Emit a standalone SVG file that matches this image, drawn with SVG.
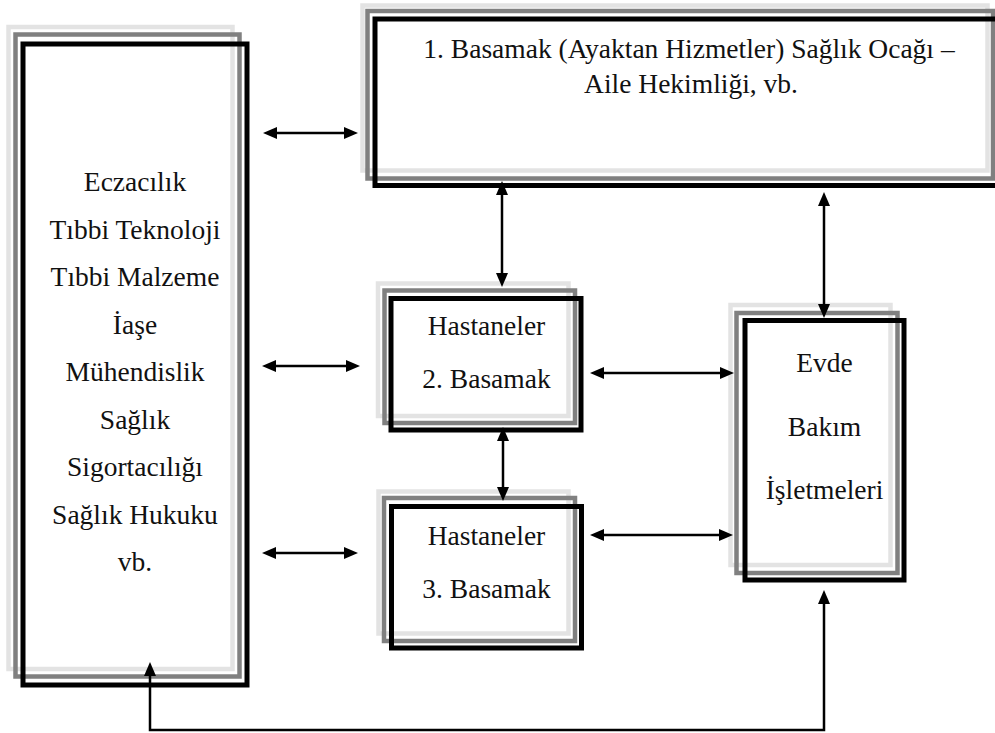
<svg xmlns="http://www.w3.org/2000/svg" width="995" height="733" viewBox="0 0 995 733">
<style>
.l{fill:none;stroke:#e3e3e3;stroke-width:4.5}
.g{fill:none;stroke:#808080;stroke-width:4.5}
.b{fill:none;stroke:#000;stroke-width:5}
.t{font-family:"Liberation Serif","Times New Roman",serif;font-size:27.5px;fill:#111;text-anchor:middle}
.c{fill:none;stroke:#000;stroke-width:2.5}
</style>
<defs>
<marker id="ah" markerUnits="userSpaceOnUse" markerWidth="15" markerHeight="13" refX="9" refY="6" orient="auto-start-reverse">
<path d="M0,0 L14,6 L0,12 z" fill="#000"/>
</marker>
</defs>
<rect width="995" height="733" fill="#fff"/>
<g id="left-box">
<rect class="l" x="8.5" y="27" width="224" height="642"/>
<rect class="g" x="15.5" y="34.5" width="224" height="642"/>
<rect class="b" x="23" y="44" width="224" height="641"/>
<text class="t" x="135" y="191">Eczacılık</text>
<text class="t" x="135" y="238.5">Tıbbi Teknoloji</text>
<text class="t" x="135" y="286">Tıbbi Malzeme</text>
<text class="t" x="135" y="333.5">İaşe</text>
<text class="t" x="135" y="381">Mühendislik</text>
<text class="t" x="135" y="428.5">Sağlık</text>
<text class="t" x="135" y="476">Sigortacılığı</text>
<text class="t" x="135" y="523.5">Sağlık Hukuku</text>
<text class="t" x="135" y="571">vb.</text>
</g>
<g id="top-box">
<rect class="l" x="362.5" y="5.5" width="625" height="165"/>
<rect class="g" x="367.5" y="11" width="625.5" height="167.5"/>
<rect class="b" x="375" y="19" width="627" height="166.5"/>
<text class="t" x="689" y="58">1. Basamak (Ayaktan Hizmetler) Sağlık Ocağı –</text>
<text class="t" x="691" y="93">Aile Hekimliği, vb.</text>
</g>
<g id="hastane2">
<rect class="l" x="378" y="283.5" width="190.5" height="132.5"/>
<rect class="g" x="384.5" y="290.5" width="190.5" height="132.5"/>
<rect class="b" x="391" y="298.5" width="190" height="131.5"/>
<text class="t" x="486.5" y="335">Hastaneler</text>
<text class="t" x="486.5" y="388">2. Basamak</text>
</g>
<g id="hastane3">
<rect class="l" x="378.5" y="491.5" width="190" height="142"/>
<rect class="g" x="384" y="498" width="191" height="143"/>
<rect class="b" x="391.5" y="506.5" width="190" height="141.5"/>
<text class="t" x="486.5" y="545">Hastaneler</text>
<text class="t" x="486.5" y="598">3. Basamak</text>
</g>
<g id="evde">
<rect class="l" x="730.5" y="305" width="160" height="260"/>
<rect class="g" x="736.5" y="313" width="161" height="260"/>
<rect class="b" x="745" y="320.5" width="159" height="259.5"/>
<text class="t" x="824.5" y="372">Evde</text>
<text class="t" x="824.5" y="436">Bakım</text>
<text class="t" x="824.5" y="499">İşletmeleri</text>
</g>
<g id="connectors">
<line class="c" x1="268" y1="133" x2="353" y2="133" marker-start="url(#ah)" marker-end="url(#ah)"/>
<line class="c" x1="267" y1="366" x2="355" y2="366" marker-start="url(#ah)" marker-end="url(#ah)"/>
<line class="c" x1="267" y1="553" x2="353" y2="553" marker-start="url(#ah)" marker-end="url(#ah)"/>
<line class="c" x1="502" y1="186" x2="502" y2="282" marker-start="url(#ah)" marker-end="url(#ah)"/>
<line class="c" x1="503" y1="432" x2="503" y2="496" marker-start="url(#ah)" marker-end="url(#ah)"/>
<line class="c" x1="595" y1="373" x2="729" y2="373" marker-start="url(#ah)" marker-end="url(#ah)"/>
<line class="c" x1="595" y1="535" x2="728" y2="535" marker-start="url(#ah)" marker-end="url(#ah)"/>
<line class="c" x1="824" y1="197" x2="824" y2="313" marker-start="url(#ah)" marker-end="url(#ah)"/>
<polyline class="c" points="150,667 150,730 824,730 824,595" marker-start="url(#ah)" marker-end="url(#ah)"/>
</g>
</svg>
